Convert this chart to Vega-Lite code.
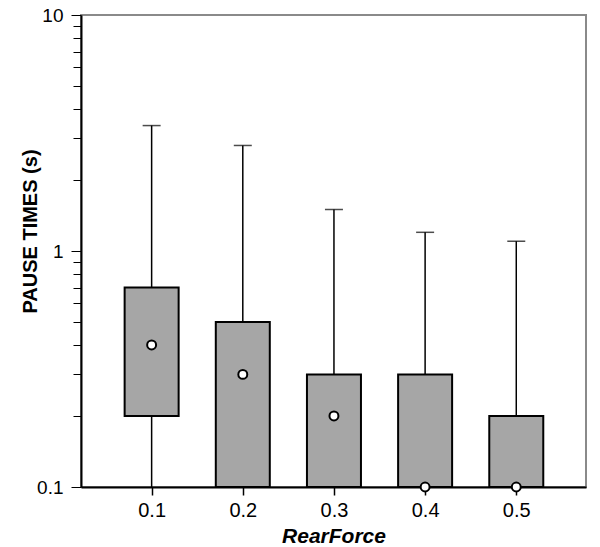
{
  "$schema": "https://vega.github.io/schema/vega-lite/v6.json",
  "width": 505,
  "height": 472,
  "autosize": "none",
  "padding": {"left": 81, "top": 15, "right": 14, "bottom": 60},
  "background": "white",
  "config": {
    "view": {"stroke": "#8a8a8a", "strokeWidth": 2},
    "font": "Liberation Sans"
  },
  "data": {
    "values": [
      {"RearForce": 0.1, "q1": 0.2, "q3": 0.7, "wlo": 0.1, "whi": 3.4, "mid": 0.4},
      {"RearForce": 0.2, "q1": 0.1, "q3": 0.5, "wlo": 0.1, "whi": 2.8, "mid": 0.3},
      {"RearForce": 0.3, "q1": 0.1, "q3": 0.3, "wlo": 0.1, "whi": 1.5, "mid": 0.2},
      {"RearForce": 0.4, "q1": 0.1, "q3": 0.3, "wlo": 0.1, "whi": 1.2, "mid": 0.1},
      {"RearForce": 0.5, "q1": 0.1, "q3": 0.2, "wlo": 0.1, "whi": 1.1, "mid": 0.1}
    ]
  },
  "encoding": {
    "x": {
      "field": "RearForce",
      "type": "quantitative",
      "scale": {"domain": [0.028, 0.571], "nice": false, "zero": false},
      "axis": {
        "values": [0.1, 0.2, 0.3, 0.4, 0.5],
        "format": ".1f",
        "title": "RearForce",
        "titleFont": "Liberation Sans",
        "titleFontSize": 21,
        "titleFontWeight": "bold",
        "titleFontStyle": "italic",
        "titleColor": "black",
        "titleY": 55,
        "titleBaseline": "alphabetic",
        "labelFontSize": 20,
        "labelColor": "black",
        "labelPadding": 5,
        "labelFlush": false,
        "tickSize": 8,
        "tickColor": "black",
        "tickWidth": 1.5,
        "domainColor": "black",
        "domainWidth": 2,
        "grid": false
      }
    }
  },
  "layer": [
    {
      "mark": {"type": "rule", "color": "black", "strokeWidth": 1.5},
      "encoding": {
        "y": {
          "field": "wlo",
          "type": "quantitative",
          "scale": {"type": "log", "domain": [0.1, 10], "nice": false},
          "axis": {
            "values": [0.1, 0.2, 0.3, 0.4, 0.5, 0.6, 0.7, 0.8, 0.9, 1, 2, 3, 4, 5, 6, 7, 8, 9, 10],
            "labelExpr": "datum.value == 0.1 ? '0.1' : datum.value == 1 ? '1' : datum.value == 10 ? '10' : ''",
            "title": "PAUSE TIMES (s)",
            "titleFont": "Liberation Sans",
            "titleFontSize": 20,
            "titleFontWeight": "bold",
            "titleColor": "black",
            "titleX": -41,
            "titleY": 216,
            "titleAngle": -90,
            "titleBaseline": "bottom",
            "titleAlign": "center",
            "labelFontSize": 19,
            "labelColor": "black",
            "labelPadding": 8,
            "labelFlush": false,
            "tickSize": {"condition": {"test": "datum.value == 0.1 || datum.value == 1 || datum.value == 10", "value": 10}, "value": 8},
            "tickColor": "black",
            "tickWidth": 1,
            "domainColor": "black",
            "domainWidth": 2,
            "grid": false
          }
        },
        "y2": {"field": "whi"}
      }
    },
    {
      "mark": {"type": "tick", "orient": "horizontal", "color": "black", "size": 18, "thickness": 1.5},
      "encoding": {
        "y": {"field": "whi", "type": "quantitative"}
      }
    },
    {
      "mark": {"type": "bar", "size": 54, "fill": "#a6a6a6", "stroke": "black", "strokeWidth": 2},
      "encoding": {
        "y": {"field": "q1", "type": "quantitative"},
        "y2": {"field": "q3"}
      }
    },
    {
      "mark": {"type": "point", "shape": "circle", "filled": true, "fill": "white", "stroke": "black", "strokeWidth": 2, "size": 80, "opacity": 1, "clip": false},
      "encoding": {
        "y": {"field": "mid", "type": "quantitative"}
      }
    }
  ]
}
